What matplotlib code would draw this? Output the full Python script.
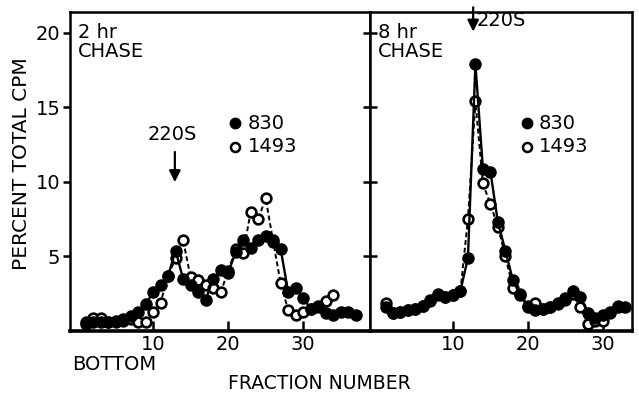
import matplotlib
matplotlib.use("Agg")
import matplotlib.pyplot as plt

plt.rcParams['font.family'] = ['DejaVu Sans']

# left panel: 2 hr chase
frac_2hr = list(range(1, 38))
cpm_830_2hr = [0.5, 0.6, 0.6, 0.6, 0.7, 0.8, 1.0, 1.3, 1.8, 2.6,
               3.1, 3.7, 5.4, 3.5, 3.1, 2.6, 2.1, 3.5, 4.1, 3.9,
               5.3, 6.1, 5.6, 6.1, 6.4, 6.1, 5.5, 2.6, 2.9, 2.2,
               1.5, 1.7, 1.2, 1.1, 1.3, 1.3, 1.1]
frac_1493_2hr = list(range(1, 35))
cpm_1493_2hr = [0.6, 0.9, 0.9, 0.6, 0.6, 0.7, 0.8, 0.6, 0.6, 1.3,
                1.9, 3.7, 4.9, 6.1, 3.6, 3.4, 3.1, 2.9, 2.6, 4.0,
                5.5, 5.2, 8.0, 7.5, 8.9, 6.0, 3.2, 1.4, 1.1, 1.3,
                1.5, 1.6, 2.0, 2.4]

# right panel: 8 hr chase
frac_8hr = list(range(1, 34))
cpm_830_8hr = [1.6, 1.2, 1.3, 1.4, 1.5, 1.7, 2.1, 2.5, 2.3, 2.4,
               2.7, 4.9, 17.9, 10.9, 10.7, 7.3, 5.4, 3.4, 2.4, 1.6,
               1.4, 1.5, 1.6, 1.9, 2.2, 2.7, 2.3, 1.2, 0.9, 1.1,
               1.3, 1.6, 1.6]
frac_1493_8hr = list(range(1, 33))
cpm_1493_8hr = [1.9, 1.2, 1.3, 1.4, 1.5, 1.7, 2.0, 2.4, 2.3, 2.4,
                2.7, 7.5, 15.4, 9.9, 8.5, 7.0, 5.0, 2.9, 2.5, 1.7,
                1.9, 1.5, 1.6, 1.8, 2.1, 2.5, 1.6, 0.5, 0.7, 0.7,
                1.2, 1.7]

xticks = [10, 20, 30]
yticks = [5, 10, 15, 20]

fig = plt.figure(figsize=(6.39, 3.95), dpi=100)
ax1 = fig.add_axes([70 / 639, 64 / 395, 300 / 639, 319 / 395])
ax2 = fig.add_axes([370 / 639, 64 / 395, 262 / 639, 319 / 395])

FS = 14


def draw(ax, fx_a, ya, fx_b, yb):
    ax.plot(fx_b, yb, ls=(0, (2.5, 1.5)), color='k', lw=1.4, marker='o',
            ms=7, mfc='white', mec='k', mew=1.9, zorder=2)
    ax.plot(fx_a, ya, ls='-', color='k', lw=1.7, marker='o',
            ms=8, mfc='k', mec='k', zorder=3)
    ax.set_ylim(0, 21.4)
    ax.set_xticks(xticks)
    ax.set_xticklabels([str(t) for t in xticks], fontsize=FS)
    for s in ax.spines.values():
        s.set_linewidth(1.8)
    ax.spines['bottom'].set_linewidth(2.6)
    ax.tick_params(axis='x', direction='in', length=7, width=1.8, pad=3)


draw(ax1, frac_2hr, cpm_830_2hr, frac_1493_2hr, cpm_1493_2hr)
draw(ax2, frac_8hr, cpm_830_8hr, frac_1493_8hr, cpm_1493_8hr)

ax1.set_xlim(-1.07, 38.9)
ax2.set_xlim(-1.07, 33.9)

ax1.set_yticks(yticks)
ax1.set_yticklabels([str(t) for t in yticks], fontsize=FS)
ax1.tick_params(axis='y', direction='out', length=5, width=1.8, pad=2)
ax2.set_yticks(yticks)
ax2.tick_params(axis='y', direction='inout', length=10, width=1.8, labelleft=False)

# panel labels
ax1.text(0.025, 0.965, "2 hr\nCHASE", transform=ax1.transAxes, va='top',
         ha='left', fontsize=FS, linespacing=1.0)
ax2.text(0.03, 0.965, "8 hr\nCHASE", transform=ax2.transAxes, va='top',
         ha='left', fontsize=FS, linespacing=1.0)

# legends
for ax, lx in [(ax1, 0.55), (ax2, 0.60)]:
    ax.plot([lx], [0.652], transform=ax.transAxes, marker='o', ms=7.5,
            mfc='k', mec='k', clip_on=False)
    ax.plot([lx], [0.577], transform=ax.transAxes, marker='o', ms=6.5,
            mfc='white', mec='k', mew=1.8, clip_on=False)
    ax.text(lx + 0.043, 0.652, "830", transform=ax.transAxes,
            va='center', ha='left', fontsize=FS)
    ax.text(lx + 0.043, 0.577, "1493", transform=ax.transAxes,
            va='center', ha='left', fontsize=FS)

# 220S markers
arrow = dict(arrowstyle='-|>', mutation_scale=17, lw=1.6, color='k')
ax1.annotate("", xy=(12.9, 9.8), xytext=(12.9, 12.2), arrowprops=arrow)
ax1.text(12.5, 13.2, "220S", ha='center', va='center', fontsize=FS)
ax2.annotate("", xy=(12.7, 19.9), xytext=(12.7, 21.9), arrowprops=arrow,
             annotation_clip=False)
ax2.text(13.1, 20.8, "220S", ha='left', va='center', fontsize=FS)

fig.text(0.034, 0.585, "PERCENT TOTAL CPM", rotation=90, ha='center',
         va='center', fontsize=14.5)
fig.text(72 / 639, 0.076, "BOTTOM", ha='left', va='center', fontsize=FS)
fig.text(0.5, 0.03, "FRACTION NUMBER", ha='center', va='center', fontsize=13.5)

fig.savefig("out.png", dpi=100)
